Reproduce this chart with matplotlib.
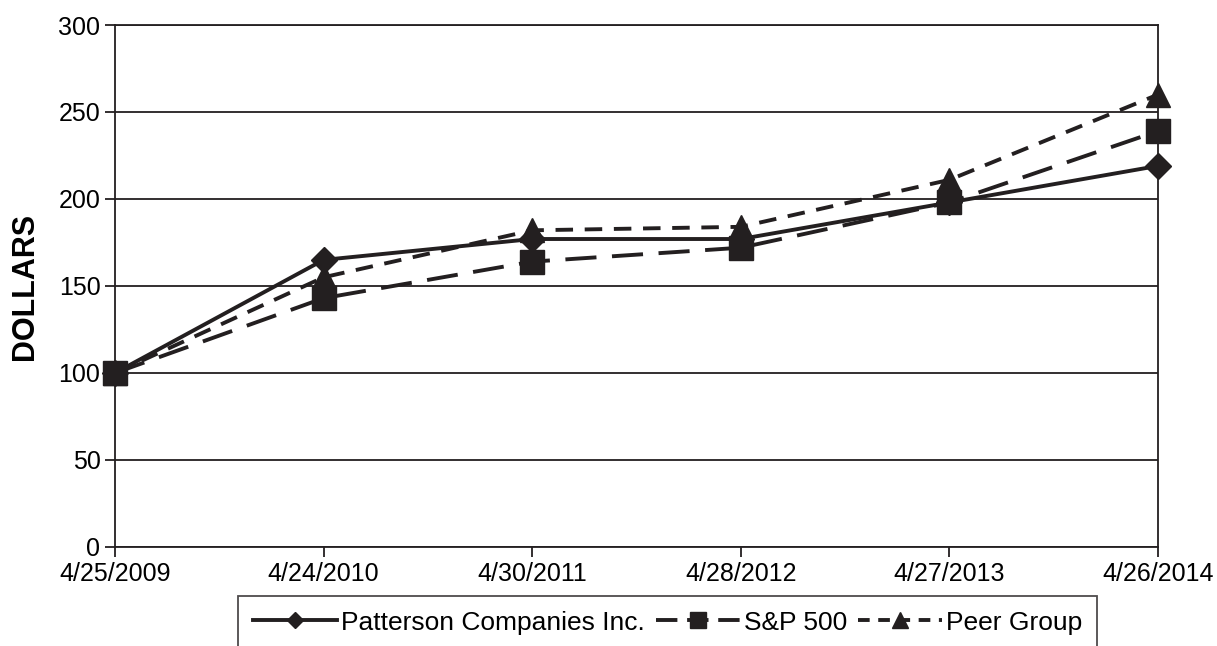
import matplotlib.pyplot as plt

dates = ["4/25/2009", "4/24/2010", "4/30/2011", "4/28/2012", "4/27/2013", "4/26/2014"]
patterson = [100, 165, 177, 177, 198, 219]
sp500 = [100, 143, 164, 172, 198, 239]
peer = [100, 155, 182, 184, 211, 260]

plt.rcParams['font.family'] = ['Liberation Sans', 'DejaVu Sans']

fig = plt.figure(figsize=(12.17, 6.46), dpi=100)
ax = fig.add_axes([0.0945, 0.1533, 0.857, 0.808])

x = list(range(len(dates)))
ax.plot(x, patterson, color='#231f20', lw=2.8, ls='-', marker='D', ms=13,
        label='Patterson Companies Inc.', zorder=3, clip_on=False)
ax.plot(x, sp500, color='#231f20', lw=2.8, ls=(0, (8, 4)), marker='s', ms=17.5,
        label='S&P 500', zorder=3, clip_on=False)
ax.plot(x, peer, color='#231f20', lw=2.8, ls=(0, (4.5, 3)), marker='^', ms=17,
        label='Peer Group', zorder=3, clip_on=False)

ax.set_xlim(0, 5)
ax.set_ylim(0, 300)
ax.set_yticks(range(0, 301, 50))
ax.set_xticks(x)
ax.set_xticklabels(dates)
ax.tick_params(axis='both', labelsize=18, color='#231f20', length=7, width=1.3)
ax.tick_params(axis='x', pad=4)
ax.grid(axis='y', color='#231f20', lw=1.3)
ax.set_axisbelow(True)
for s in ax.spines.values():
    s.set_color('#231f20')
    s.set_linewidth(1.3)
ax.set_ylabel('DOLLARS', fontsize=22, fontweight='bold', labelpad=13)

leg = ax.legend(loc='upper center', bbox_to_anchor=(0.53, -0.094), ncol=3,
                fontsize=19, frameon=True, fancybox=False, edgecolor='#231f20',
                handlelength=3.2, handletextpad=0.15, columnspacing=0.4,
                borderpad=0.55, borderaxespad=0, markerscale=0.65)
leg.get_frame().set_linewidth(1.3)
# shorter dashes in the legend so the pattern shows on the short handles
leg.get_lines()[1].set_linestyle((0, (5.5, 2.5)))
leg.get_lines()[2].set_linestyle((0, (3, 2.2)))

fig.savefig('out.png', dpi=100)
